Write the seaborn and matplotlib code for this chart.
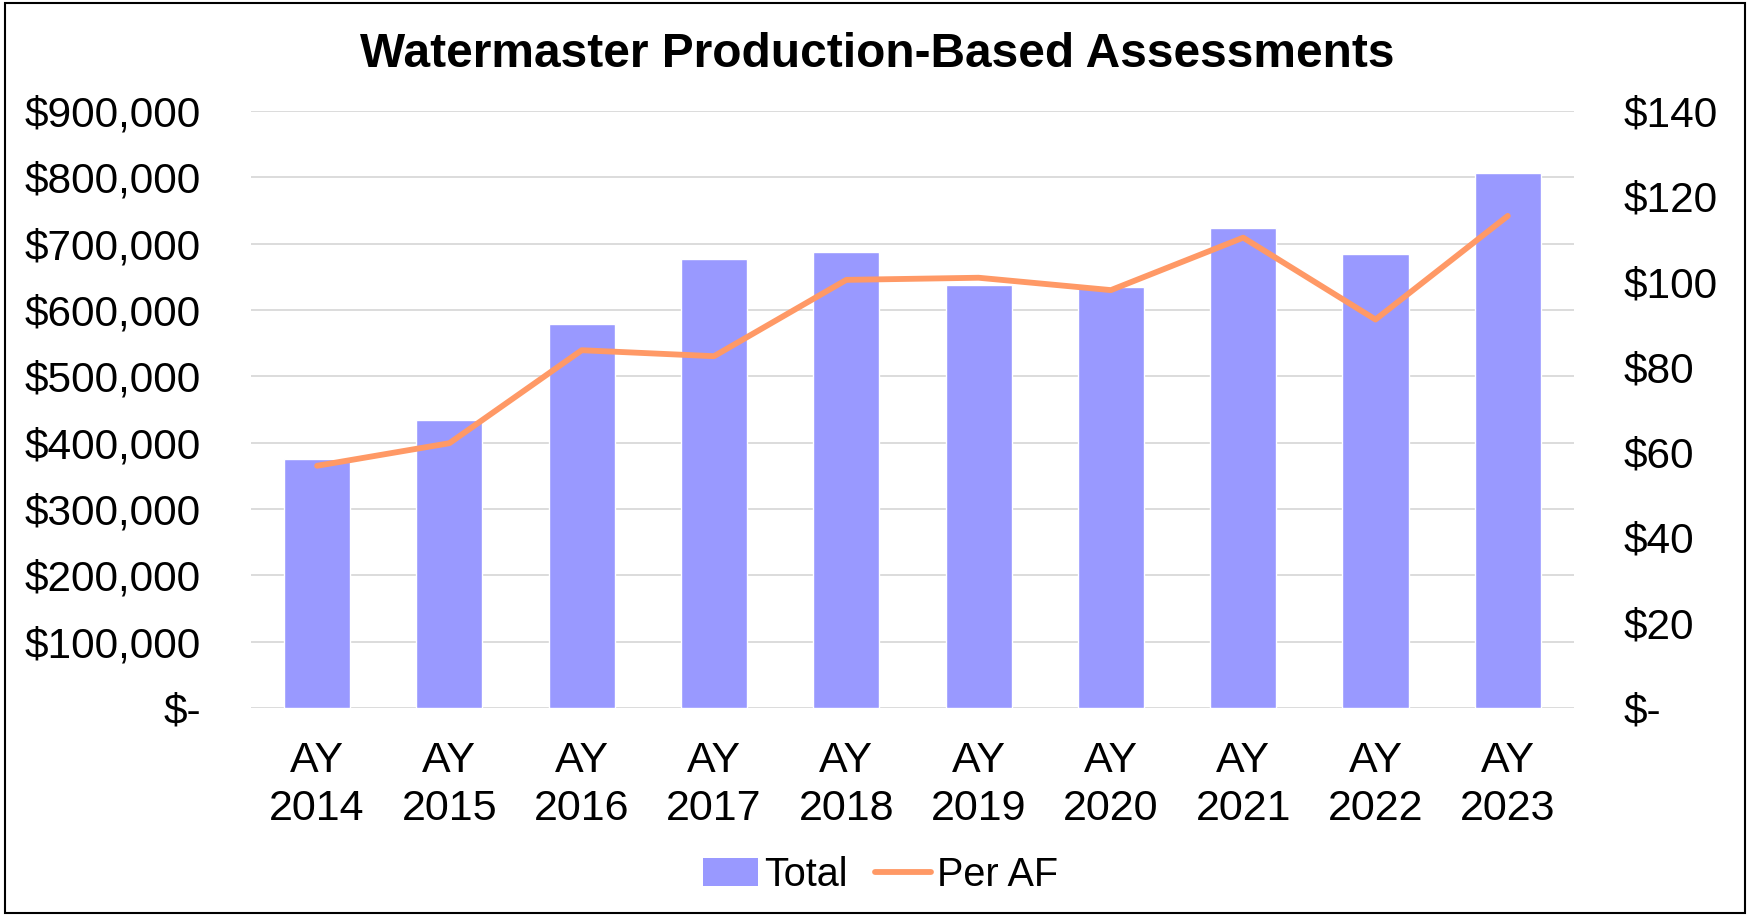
import matplotlib.pyplot as plt
import seaborn as sns
import pandas as pd
from matplotlib.patches import Rectangle, Patch
from matplotlib.lines import Line2D
from matplotlib.ticker import FuncFormatter

years = [2014, 2015, 2016, 2017, 2018, 2019, 2020, 2021, 2022, 2023]
total = [375000, 434000, 579000, 677000, 687000, 638000, 634000, 724000, 684000, 807000]
per_af = [56.8, 62.1, 83.9, 82.5, 100.4, 100.9, 98.0, 110.3, 91.1, 115.4]
labels = [f"AY\n{y}" for y in years]

df = pd.DataFrame({"label": labels, "total": total, "per_af": per_af})

bar_color = "#9999FF"
line_color = "#FF9966"

sns.set_theme(style="white")
plt.rcParams['font.family'] = ['Liberation Sans', 'DejaVu Sans']
plt.rcParams['text.color'] = 'black'

fig = plt.figure(figsize=(17.5, 9.16), dpi=100)
ax = fig.add_axes([0.1434, 0.2271, 0.756, 0.6517])

# Total bars
sns.barplot(data=df, x="label", y="total", color=bar_color, saturation=1,
            width=0.5, ax=ax)
ax.set_ylim(0, 900000)
ax.set_yticks(range(0, 900001, 100000))
ax.yaxis.set_major_formatter(FuncFormatter(lambda v, p: "$-" if v == 0 else f"${v:,.0f}"))
ax.yaxis.grid(True, color="#D9D9D9", lw=1.3)
ax.set_axisbelow(True)

# Per AF line
ax2 = ax.twinx()
sns.pointplot(data=df, x="label", y="per_af", color=line_color, markers="",
              errorbar=None, ax=ax2)
for ln in ax2.lines:
    ln.set_linewidth(4.2)
    ln.set_solid_capstyle("round")
    ln.set_solid_joinstyle("round")
ax2.set_ylim(0, 140)
ax2.set_yticks(range(0, 141, 20))
ax2.yaxis.set_major_formatter(FuncFormatter(lambda v, p: "$-" if v == 0 else f"${v:.0f}"))
ax2.grid(False)

ax.set_xticks(range(len(labels)))
ax.set_xticklabels(labels, linespacing=1.25)
ax.set_xlim(-0.5, len(labels) - 0.5)
ax.set_xlabel("")
ax.set_ylabel("")
ax2.set_xlabel("")
ax2.set_ylabel("")

for a in (ax, ax2):
    for s in a.spines.values():
        s.set_visible(False)
    a.tick_params(length=0, labelsize=30.5, colors="black")
ax.tick_params(axis="y", pad=36)
ax2.tick_params(axis="y", pad=36)
ax.tick_params(axis="x", pad=24, labelsize=31)

fig.text(0.501, 0.940, "Watermaster Production-Based Assessments",
         ha="center", va="center", fontsize=34.5, fontweight="bold", color="black")

handles = [Patch(facecolor=bar_color, edgecolor="none", label="Total"),
           Line2D([], [], color=line_color, lw=4.2, solid_capstyle="round", label="Per AF")]
fig.legend(handles=handles, loc="center", bbox_to_anchor=(0.503, 1 - 875 / 916),
           ncol=2, frameon=False, fontsize=28.5, handlelength=1.4,
           handletextpad=0.15, columnspacing=0.7)

fig.add_artist(Rectangle((0.003, 0.003), 0.994, 0.994, transform=fig.transFigure,
                         fill=False, edgecolor="black", lw=1.5))

fig.savefig("out.png", dpi=100)
